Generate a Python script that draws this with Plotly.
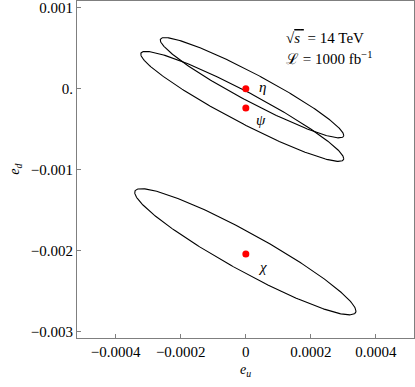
import numpy as np
import plotly.graph_objects as go

# =====================================================
# DATA  (ellipse centres, half-extents, correlation)
# =====================================================

models = ["η", "ψ", "χ"]
center_eu = [1.9e-5, -1.1e-5, -1.5e-6]
center_ed = [1.2e-5, -2.18e-4, -2.015e-3]
halfwidth_eu = [2.82e-4, 3.12e-4, 3.40e-4]
halfwidth_ed = [6.2e-4, 6.8e-4, 7.8e-4]
rho = [-0.95, -0.95, -0.94]

point_eu = [0.0, 0.0, 0.0]
point_ed = [0.0, -2.39e-4, -2.043e-3]

label_eu = [5.2e-5, 4.8e-5, 5.1e-5]
label_ed = [1.9e-5, -3.9e-4, -2.20e-3]

x_ticks = [-0.0004, -0.0002, 0, 0.0002, 0.0004]
x_ticktext = ["−0.0004", "−0.0002", "0", "0.0002", "0.0004"]
y_ticks = [0.001, 0, -0.001, -0.002, -0.003]
y_ticktext = ["0.001", "0.", "−0.001", "−0.002", "−0.003"]

FONT = "Liberation Serif"

# =====================================================
# FIGURE
# =====================================================

fig = go.Figure()

t = np.linspace(0, 2 * np.pi, 300)
for i in range(len(models)):
    ex = center_eu[i] + halfwidth_eu[i] * np.cos(t)
    ey = center_ed[i] + halfwidth_ed[i] * (
        rho[i] * np.cos(t) + np.sqrt(1 - rho[i] ** 2) * np.sin(t)
    )
    fig.add_trace(go.Scatter(
        x=ex, y=ey, mode="lines",
        line=dict(color="black", width=1.1),
        hoverinfo="skip"
    ))

fig.add_trace(go.Scatter(
    x=point_eu, y=point_ed, mode="markers",
    marker=dict(color="#FF0000", size=7)
))

for i, name in enumerate(models):
    fig.add_annotation(
        x=label_eu[i], y=label_ed[i], text="<i>" + name + "</i>",
        showarrow=False, xanchor="center", yanchor="middle",
        font=dict(family=FONT, size=15, color="black")
    )

fig.add_annotation(
    xref="paper", yref="paper", x=0.615, y=0.889,
    text="√<span style='text-decoration:overline'><i>s</i> </span> = 14 TeV",
    showarrow=False, xanchor="left", yanchor="middle",
    font=dict(family=FONT, size=15, color="black")
)
fig.add_annotation(
    xref="paper", yref="paper", x=0.615, y=0.830,
    text="ℒ = 1000 fb<sup>−1</sup>",
    showarrow=False, xanchor="left", yanchor="middle",
    font=dict(family=FONT, size=15, color="black")
)

# axis titles
fig.add_annotation(
    xref="x", yref="paper", x=0, y=-0.128,
    text="<i>e</i><sub><i>u</i></sub>", showarrow=False,
    font=dict(family=FONT, size=14, color="black")
)
fig.add_annotation(
    xref="paper", yref="y", x=-0.212, y=-0.001,
    text="<i>e</i><sub><i>d</i></sub>", showarrow=False, textangle=-90,
    font=dict(family=FONT, size=14, color="black")
)

axis_style = dict(
    showgrid=False, zeroline=False,
    showline=True, mirror=True, linecolor="#7f7f7f", linewidth=1,
    ticks="inside", ticklen=4, tickcolor="#7f7f7f", tickwidth=1,
    tickfont=dict(family=FONT, size=15, color="black")
)

fig.update_xaxes(
    range=[-0.000519, 0.000517],
    tickvals=x_ticks, ticktext=x_ticktext, **axis_style
)
fig.update_yaxes(
    range=[-0.003081, 0.001084],
    tickvals=y_ticks, ticktext=y_ticktext, **axis_style
)

fig.update_layout(
    width=415, height=387,
    margin=dict(l=77, r=1, t=1, b=49),
    paper_bgcolor="white", plot_bgcolor="white",
    showlegend=False
)

fig.write_html(
    "out.html",
    config={"displayModeBar": False},
    post_script="document.body.style.margin='0';"
)
